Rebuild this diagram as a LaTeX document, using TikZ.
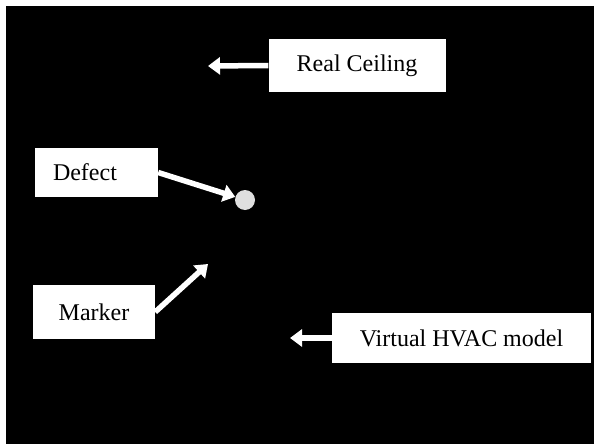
\documentclass[tikz,border=0pt]{standalone}
\usepackage{fontspec}
\setmainfont{Liberation Serif}
\usetikzlibrary{arrows.meta}
\begin{document}
\begin{tikzpicture}[x=1pt,y=-1pt,
  lbox/.style={rectangle, fill=white, draw=none, inner sep=0pt, font=\fontsize{24}{27}\selectfont, text=black},
  warrow/.style={draw=white, line width=5.5pt, -{Triangle[length=12pt,width=17pt]}}]
  \fill[white] (0,0) rectangle (594,444);
  \useasboundingbox (0,0) rectangle (594,444);
  \fill[black] (6,6) rectangle (594,444);
  \node[lbox, minimum width=177pt, minimum height=53pt] (rc) at (357,65.5) {Real Ceiling};
  \node[lbox, minimum width=123pt, minimum height=49pt, text width=87pt, align=left, inner xsep=18pt] (defect) at (96.5,172.5) {Defect};
  \node[lbox, minimum width=122pt, minimum height=54pt] (marker) at (94,312) {Marker};
  \node[lbox, minimum width=259pt, minimum height=50pt] (hvac) at (461.5,338) {Virtual HVAC model};
  \node[circle, fill=gray!25, minimum size=20pt, inner sep=0pt] (dot) at (245,200) {};
  \coordinate (rctip) at (208,66);
  \coordinate (mktip) at (208,264);
  \coordinate (hvtip) at (290,338);
  \draw[warrow] (rc.west) -- (rctip);
  \draw[warrow] (defect.east) -- (dot);
  \draw[warrow] (marker.east) -- (mktip);
  \draw[warrow] (hvac.west) -- (hvtip);
\end{tikzpicture}
\end{document}
